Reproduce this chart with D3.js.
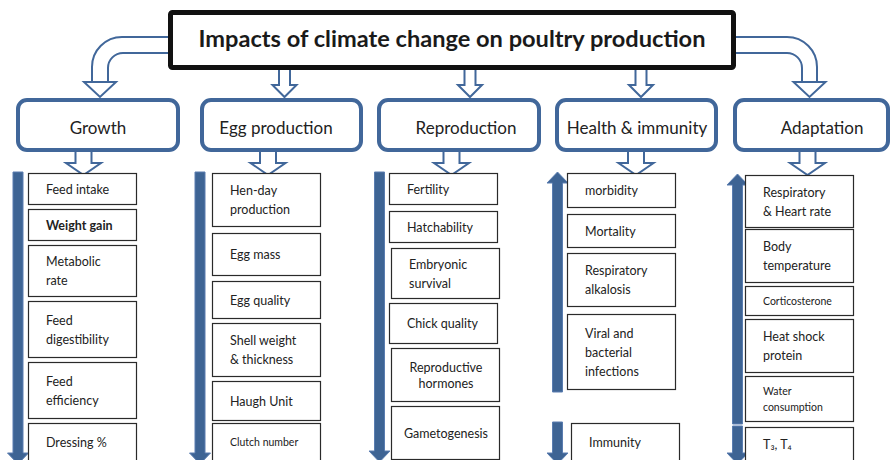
<!DOCTYPE html>
<html><head><meta charset="utf-8">
<script src="https://cdn.jsdelivr.net/npm/d3@7"></script>
<style>html,body{margin:0;padding:0;background:#fff;overflow:hidden} svg{display:block}</style>
</head><body>
<svg id="c" width="891" height="460"></svg>
<script>
// ---------- DATA ----------
const title = "Impacts of climate change on poultry production";
const categories = ["Growth", "Egg production", "Reproduction", "Health & immunity", "Adaptation"];
const growthItems = ["Feed intake", "Weight gain", "Metabolic\nrate", "Feed\ndigestibility", "Feed\nefficiency", "Dressing %"];
const eggItems = ["Hen-day\nproduction", "Egg mass", "Egg quality", "Shell weight\n& thickness", "Haugh Unit", "Clutch number"];
const reproItems = ["Fertility", "Hatchability", "Embryonic\nsurvival", "Chick quality", "Reproductive\nhormones", "Gametogenesis"];
const healthItems = ["morbidity", "Mortality", "Respiratory\nalkalosis", "Viral and\nbacterial\ninfections", "Immunity"];
const adaptItems = ["Respiratory\n& Heart rate", "Body\ntemperature", "Corticosterone", "Heat shock\nprotein", "Water\nconsumption", "T₃, T₄"];
const growthTrend = ["down", "down", "down", "down", "down", "down"];
const eggTrend = ["down", "down", "down", "down", "down", "down"];
const reproTrend = ["down", "down", "down", "down", "down", "down"];
const healthTrend = ["up", "up", "up", "up", "down"];
const adaptTrend = ["up", "up", "up", "up", "up", "down"];

const items = [growthItems, eggItems, reproItems, healthItems, adaptItems];
const trends = [growthTrend, eggTrend, reproTrend, healthTrend, adaptTrend];

// ---------- LAYOUT ----------
const W = 891, H = 460;
const BLUE = "#41679a", ARROW = "#3e6494";
const FONT = "Lato, 'Open Sans', sans-serif";
const headerX = d3.scaleOrdinal(categories, [18, 202, 379, 557, 735]);
const headerW = d3.scaleOrdinal(categories, [160, 159, 160, 159, 153]);
const headerLabelX = d3.scaleOrdinal(categories, [98, 276, 466, 637, 822]);
const subArrowX = d3.scaleOrdinal(categories, [83.5, 268, 451.5, 636, 807.5]);
const topArrowX = d3.scaleOrdinal(categories, [null, 284.5, 470, 641, null]);
const colArrowX = d3.scaleOrdinal(categories, [18, 200, 379.5, 557.5, 737.5]);
const itemBoxes = [
  [[173,204],[209,240],[245,296],[301,357],[362,418],[423,470]],
  [[173,226],[233,275],[281,318],[323,376],[381,420],[423,470]],
  [[173,204],[211,242],[248,298],[303,343],[348,401],[406,459]],
  [[173,207],[214,247],[253,306],[314,389],[423,470]],
  [[175,227],[229,282],[286,315],[319,372],[376,421],[427,470]]
];
const itemDx = [[0,0,0,0,0,0],[0,0,0,0,0,0],[0,0,2,0,2,2],[0,0,0,0,4],[0,0,0,0,0,0]];
const smallSet = new Set(["Clutch number", "Corticosterone", "Water\nconsumption"]);
const centeredSet = new Set(["Reproductive\nhormones", "Gametogenesis"]);
const boldSet = new Set(["Weight gain"]);

const svg = d3.select("#c");
const y = d3.scaleLinear().domain([0, H]).range([0, H]);

// ---------- curved arrows from title ----------
function curvedArrow(side) {
  const edge = side < 0 ? 170 : 735;
  const so = side < 0 ? 92 : 817;
  const si = side < 0 ? 108 : 802;
  const cx = (so + si) / 2;
  const ro = 30, ri = 15;
  const yo = 37, yi = 53, yb = 82, yt = 97, hw = 16;
  const sw0 = side < 0 ? 0 : 1, sw1 = side < 0 ? 1 : 0;
  const p = `M${edge},${yo} H${so - side*ro} A${ro},${ro} 0 0 ${sw0} ${so},${yo+ro} V${yb} H${cx - side*hw} L${cx},${yt} L${cx + side*hw},${yb} H${si} V${yi+ri} A${ri},${ri} 0 0 ${sw1} ${si - side*ri},${yi} H${edge} Z`;
  svg.append("path").attr("d", p).attr("fill", "#fff").attr("stroke", BLUE).attr("stroke-width", 2).attr("stroke-linejoin", "miter");
}
curvedArrow(-1);
curvedArrow(1);

function hollowArrow(cx, y0, yb, yt, sw, hw) {
  const p = `M${cx - sw/2},${y0} V${yb} H${cx - hw/2} L${cx},${yt} L${cx + hw/2},${yb} H${cx + sw/2} V${y0} Z`;
  svg.append("path").attr("d", p).attr("fill", "#fff").attr("stroke", BLUE).attr("stroke-width", 2);
}
categories.forEach(c => {
  const tx = topArrowX(c);
  if (tx != null) hollowArrow(tx, y(66), y(85), y(97), 11, 24);
});

// ---------- title ----------
svg.append("rect").attr("x", 170.5).attr("y", 12.5).attr("width", 563).attr("height", 55)
  .attr("rx", 2).attr("fill", "#fff").attr("stroke", "#111").attr("stroke-width", 5);
svg.append("text").attr("x", 452).attr("y", 39).attr("dy", "0.35em").attr("text-anchor", "middle")
  .attr("font-family", FONT).attr("font-weight", "bold").attr("font-size", 23.6).attr("fill", "#1a1a1a").text(title);

// ---------- headers ----------
categories.forEach(c => {
  svg.append("rect").attr("x", headerX(c)).attr("y", 100).attr("width", headerW(c)).attr("height", 50)
    .attr("rx", 9).attr("fill", "#fff").attr("stroke", BLUE).attr("stroke-width", 4);
  svg.append("text").attr("x", headerLabelX(c)).attr("y", 128).attr("dy", "0.35em").attr("text-anchor", "middle")
    .attr("font-family", FONT).attr("font-size", 17).attr("fill", "#222").text(c);
  hollowArrow(subArrowX(c), 151, 163, 175, 16, 35);
});

// ---------- column trend arrows ----------
function solidArrow(cx, yTop, yBot, dir) {
  const sw = 10, hw = 21, hl = 11;
  let p;
  if (dir === "down") {
    p = `M${cx - sw/2},${yTop} V${yBot - hl} H${cx - hw/2} L${cx},${yBot} L${cx + hw/2},${yBot - hl} H${cx + sw/2} V${yTop} Z`;
  } else {
    p = `M${cx - sw/2},${yBot} V${yTop + hl} H${cx - hw/2} L${cx},${yTop} L${cx + hw/2},${yTop + hl} H${cx + sw/2} V${yBot} Z`;
  }
  svg.append("path").attr("d", p).attr("fill", ARROW).attr("stroke", "#5a7db0").attr("stroke-width", 1);
}

categories.forEach((c, ci) => {
  const tr = trends[ci], boxes = itemBoxes[ci];
  let start = 0;
  for (let i = 1; i <= tr.length; i++) {
    if (i === tr.length || tr[i] !== tr[start]) {
      const top = y(boxes[start][0] - 1);
      const bot = Math.min(y(boxes[i - 1][1] + 3), 464);
      solidArrow(colArrowX(c), top, bot, tr[start]);
      start = i;
    }
  }
});

// ---------- item boxes ----------
categories.forEach((c, ci) => {
  const bx0 = headerX(c) + 10;
  items[ci].forEach((label, ii) => {
    const [y0, y1] = itemBoxes[ci][ii];
    const bx = bx0 + itemDx[ci][ii];
    svg.append("rect").attr("x", bx + 0.5).attr("y", y(y0) + 0.5).attr("width", 108).attr("height", y(y1) - y(y0))
      .attr("fill", "#fff").attr("stroke", "#2a2a2a").attr("stroke-width", 1.2);
    const small = smallSet.has(label), centered = centeredSet.has(label);
    const fs = small ? 10.5 : 12.5;
    const lines = label.split("\n");
    const lh = small ? 16 : (centered ? 16.5 : 19);
    const mid = (y(y0) + Math.min(y(y1), H)) / 2 + 1;
    const t = svg.append("text")
      .attr("font-family", FONT).attr("font-size", fs).attr("fill", "#222")
      .attr("font-weight", boldSet.has(label) ? "bold" : "normal")
      .attr("text-anchor", centered ? "middle" : "start");
    const tx = centered ? bx + 55 : bx + 18;
    lines.forEach((ln, li) => {
      t.append("tspan").attr("x", tx).attr("y", mid + (li - (lines.length - 1) / 2) * lh).attr("dy", "0.35em").text(ln);
    });
  });
});
</script>
</body></html>
